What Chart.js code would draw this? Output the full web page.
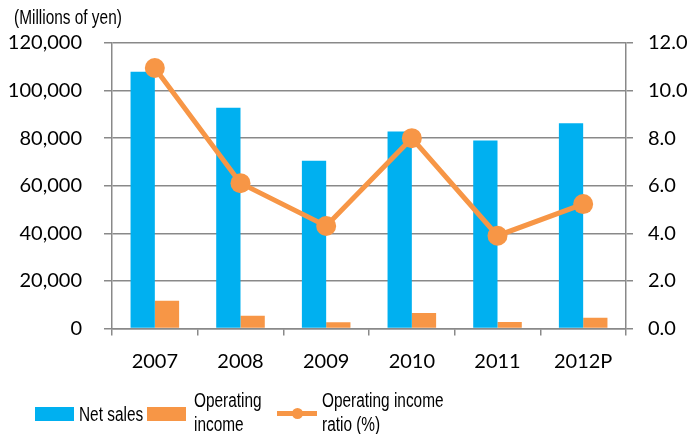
<!DOCTYPE html>
<html>
<head>
<meta charset="utf-8">
<script src="https://cdn.jsdelivr.net/npm/chart.js@4"></script>
<style>
  html, body { margin: 0; padding: 0; background: #fff; }
  #wrap { position: relative; width: 693px; height: 434px; overflow: hidden; }
  canvas { position: absolute; left: 0; top: 0; }
  .t { position: absolute; font-family: "Liberation Sans", Arial, sans-serif; font-size: 20px; color: #000; line-height: 24px; white-space: nowrap; transform: scaleX(0.77); transform-origin: 0 0; }
  .box { position: absolute; }
</style>
</head>
<body>
<div id="wrap">
  <canvas id="c" width="693" height="434"></canvas>
  <div class="t" style="left:14px; top:5px;">(Millions of yen)</div>
  <div class="box" style="left:35px; top:407px; width:39px; height:14px; background:#00B0F0;"></div>
  <div class="t" style="left:79px; top:402px;">Net sales</div>
  <div class="box" style="left:147px; top:407px; width:39px; height:14px; background:#F79646;"></div>
  <div class="t" style="left:194px; top:388px;">Operating<br>income</div>
  <div class="box" style="left:277px; top:411px; width:40px; height:5px; background:#F79646;"></div>
  <div class="box" style="left:292px; top:408px; width:11px; height:11px; border-radius:50%; background:#F79646;"></div>
  <div class="t" style="left:322px; top:388px;">Operating income<br>ratio (%)</div>
</div>
<script>
const categories = ["2007", "2008", "2009", "2010", "2011", "2012P"];
const netSales = [107900, 92800, 70500, 82800, 79000, 86300];
const operatingIncome = [11700, 5400, 2600, 6500, 2700, 4500];
const operatingIncomeRatio = [10.95, 6.11, 4.31, 8.0, 3.9, 5.23];
const leftTicks = [0, 20000, 40000, 60000, 80000, 100000, 120000];
const rightTicks = [0, 2, 4, 6, 8, 10, 12];

const gridColor = "#898989";
const tickFont = { family: "Lato", size: 20 };

new Chart(document.getElementById("c"), {
  type: "bar",
  data: {
    labels: categories,
    datasets: [
      {
        type: "line",
        label: "Operating income ratio (%)",
        data: operatingIncomeRatio,
        yAxisID: "y1",
        borderColor: "#F79646",
        backgroundColor: "#F79646",
        borderWidth: 5,
        pointRadius: 10,
        pointHoverRadius: 10,
        pointBorderWidth: 0,
        tension: 0,
        order: 0
      },
      {
        label: "Net sales",
        data: netSales,
        backgroundColor: "#00B0F0",
        borderWidth: 0,
        yAxisID: "y",
        categoryPercentage: 0.567,
        barPercentage: 1.0,
        order: 1
      },
      {
        label: "Operating income",
        data: operatingIncome,
        backgroundColor: "#F79646",
        borderWidth: 0,
        yAxisID: "y",
        categoryPercentage: 0.567,
        barPercentage: 1.0,
        order: 1
      }
    ]
  },
  options: {
    responsive: false,
    animation: false,
    events: [],
    layout: { padding: { top: 43, bottom: 65.5, left: 0, right: 0 } },
    plugins: { legend: { display: false }, tooltip: { enabled: false }, title: { display: false } },
    scales: {
      x: {
        offset: true,
        grid: { offset: true, drawOnChartArea: false, drawTicks: true, tickLength: 7, color: gridColor, lineWidth: 1.5 },
        border: { display: true, color: gridColor, width: 1.5 },
        ticks: { font: tickFont, color: "#000", padding: 14, maxRotation: 0 },
        afterFit: s => { s.height = 40; }
      },
      y: {
        position: "left",
        min: 0, max: 120000,
        afterBuildTicks: s => { s.ticks = leftTicks.map(v => ({ value: v })); },
        grid: { color: gridColor, lineWidth: 1.5, tickLength: 8 },
        border: { display: true, color: gridColor, width: 1.5 },
        ticks: { font: tickFont, color: "#000", padding: 22, callback: v => v.toLocaleString("en-US") },
        afterFit: s => { s.width = 112; }
      },
      y1: {
        position: "right",
        min: 0, max: 12,
        afterBuildTicks: s => { s.ticks = rightTicks.map(v => ({ value: v })); },
        grid: { drawOnChartArea: false, color: gridColor, lineWidth: 1.5, tickLength: 7 },
        border: { display: true, color: gridColor, width: 1.5 },
        ticks: { font: tickFont, color: "#000", padding: 15, callback: v => Number(v).toFixed(1) },
        afterFit: s => { s.width = 67; }
      }
    }
  }
});
</script>
</body>
</html>
